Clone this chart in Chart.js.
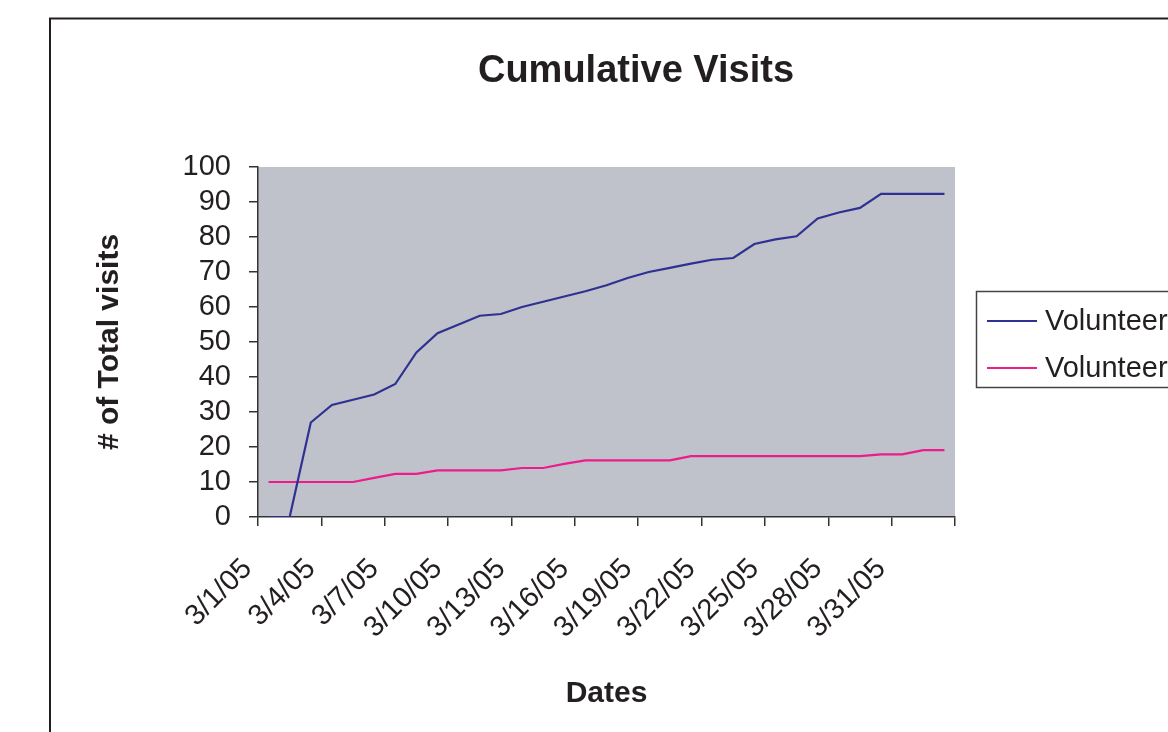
<!DOCTYPE html>
<html>
<head>
<meta charset="utf-8">
<title>Cumulative Visits</title>
<script src="https://cdn.jsdelivr.net/npm/chart.js@4.4.1/dist/chart.umd.min.js"></script>
<style>
  html, body { margin: 0; padding: 0; background: #fff; }
  #wrap { position: relative; width: 1168px; height: 732px; }
</style>
</head>
<body>
<div id="wrap"><canvas id="chartVisits"></canvas></div>
<script>
'use strict';

// Dates on the category axis (one per day)
const DATES = ['3/1/05', '3/2/05', '3/3/05', '3/4/05', '3/5/05', '3/6/05', '3/7/05', '3/8/05',
               '3/9/05', '3/10/05', '3/11/05', '3/12/05', '3/13/05', '3/14/05', '3/15/05',
               '3/16/05', '3/17/05', '3/18/05', '3/19/05', '3/20/05', '3/21/05', '3/22/05',
               '3/23/05', '3/24/05', '3/25/05', '3/26/05', '3/27/05', '3/28/05', '3/29/05',
               '3/30/05', '3/31/05', '4/1/05', '4/2/05'];

// Cumulative totals
const VOL_1 = [0, 0, 27, 32, 33.5, 35, 38, 47, 52.5, 55, 57.5, 58, 60, 61.5, 63, 64.5, 66.2,
               68.3, 70, 71.2, 72.4, 73.5, 74, 78, 79.3, 80.2, 85.3, 87, 88.3, 92.3, 92.3, 92.3, 92.3];
const VOL_2 = [10, 10, 10, 10, 10, 11.2, 12.3, 12.3, 13.3, 13.3, 13.3, 13.3, 14, 14, 15.2, 16.2, 16.2,
               16.2, 16.2, 16.2, 17.4, 17.4, 17.4, 17.4, 17.4, 17.4, 17.4, 17.4, 17.4, 17.9, 17.9, 19.1, 19.1];
const SERIES_NAMES = ['Volunteer A', 'Volunteer B'];
const Y_TICKS = [0, 10, 20, 30, 40, 50, 60, 70, 80, 90, 100];
const TITLE = 'Cumulative Visits';

const BLUE = '#2e3192';
const PINK = '#ec1c8c';
const INK  = '#231f20';
const PLOT_BG = '#bfc2ca';
const FONT = "'Liberation Sans', Arial, sans-serif";

Chart.defaults.font.family = FONT;
Chart.defaults.color = INK;

// grey plot area, outer frame of the sheet and the title
const frame = {
  id: 'frame',
  beforeDraw(chart) {
    const { ctx, chartArea: a } = chart;
    ctx.save();
    ctx.fillStyle = PLOT_BG;
    ctx.fillRect(a.left, a.top, a.right - a.left, a.bottom - a.top);
    ctx.strokeStyle = INK;
    ctx.lineWidth = 2;
    ctx.beginPath();
    ctx.moveTo(50, 732);
    ctx.lineTo(50, 18.5);
    ctx.lineTo(1168, 18.5);
    ctx.stroke();
    ctx.fillStyle = INK;
    ctx.font = 'bold 38px ' + FONT;
    ctx.textAlign = 'center';
    ctx.textBaseline = 'middle';
    ctx.fillText(TITLE, 636, 72);
    ctx.restore();
  },
};

// legend box on the right, cut by the page edge like the original
const sideLegend = {
  id: 'sideLegend',
  afterDraw(chart) {
    const { ctx } = chart;
    ctx.save();
    ctx.strokeStyle = '#444';
    ctx.lineWidth = 1.5;
    ctx.strokeRect(976.5, 291.5, 260, 96);
    ctx.font = '29px ' + FONT;
    ctx.textBaseline = 'middle';
    ctx.textAlign = 'left';
    chart.data.datasets.forEach((ds, i) => {
      const y = 321 + i * 47;
      ctx.strokeStyle = ds.borderColor;
      ctx.lineWidth = 2;
      ctx.beginPath();
      ctx.moveTo(987, y);
      ctx.lineTo(1037, y);
      ctx.stroke();
      ctx.fillStyle = INK;
      ctx.fillText(ds.label, 1045, y + 1);
    });
    ctx.restore();
  },
};

new Chart(document.getElementById('chartVisits'), {
  type: 'line',
  data: {
    labels: DATES,
    datasets: [
      { label: SERIES_NAMES[0], data: VOL_1, borderColor: BLUE, backgroundColor: BLUE,
        borderWidth: 2.2, pointRadius: 0, tension: 0 },
      { label: SERIES_NAMES[1], data: VOL_2, borderColor: PINK, backgroundColor: PINK,
        borderWidth: 2.2, pointRadius: 0, tension: 0 },
    ],
  },
  options: {
    responsive: true, maintainAspectRatio: false, animation: false,
    layout: { padding: { left: 50, right: 213, top: 167, bottom: 0 } },
    plugins: {
      legend: { display: false },
      tooltip: { enabled: false },
      title: { display: false },
    },
    scales: {
      x: {
        offset: true,
        afterFit: s => { s.height = 215; },
        border: { display: true, color: '#333', width: 1.5 },
        grid: {
          offset: true, drawOnChartArea: false, drawTicks: true, tickLength: 9, lineWidth: 1.5,
          color: c => (c.index === undefined || c.index % 3 === 0) ? '#333' : 'rgba(0,0,0,0)',
        },
        ticks: {
          autoSkip: false, minRotation: 45, maxRotation: 45, padding: 26, labelOffset: -21,
          font: { size: 29 }, color: INK,
          callback: (v, i) => i % 3 === 0 ? DATES[i] : '',
        },
        title: {
          display: true, text: 'Dates', color: INK,
          font: { size: 30, weight: 'bold', lineHeight: 1.2 },
          padding: { top: 0, bottom: 20 },
        },
      },
      y: {
        min: 0, max: 100,
        afterFit: s => { s.width = 208; },
        afterBuildTicks: s => { s.ticks = Y_TICKS.map(v => ({ value: v })); },
        border: { display: true, color: '#333', width: 1.5 },
        grid: { drawOnChartArea: false, drawTicks: true, tickLength: 9, color: '#333', lineWidth: 1.5 },
        ticks: { autoSkip: false, font: { size: 29 }, color: INK, padding: 18 },
        title: {
          display: true, text: '# of Total visits', color: INK,
          font: { size: 30, weight: 'bold', lineHeight: 1.2 },
          padding: { top: 42, bottom: 0 },
        },
      },
    },
  },
  plugins: [frame, sideLegend],
});
</script>
</body>
</html>
